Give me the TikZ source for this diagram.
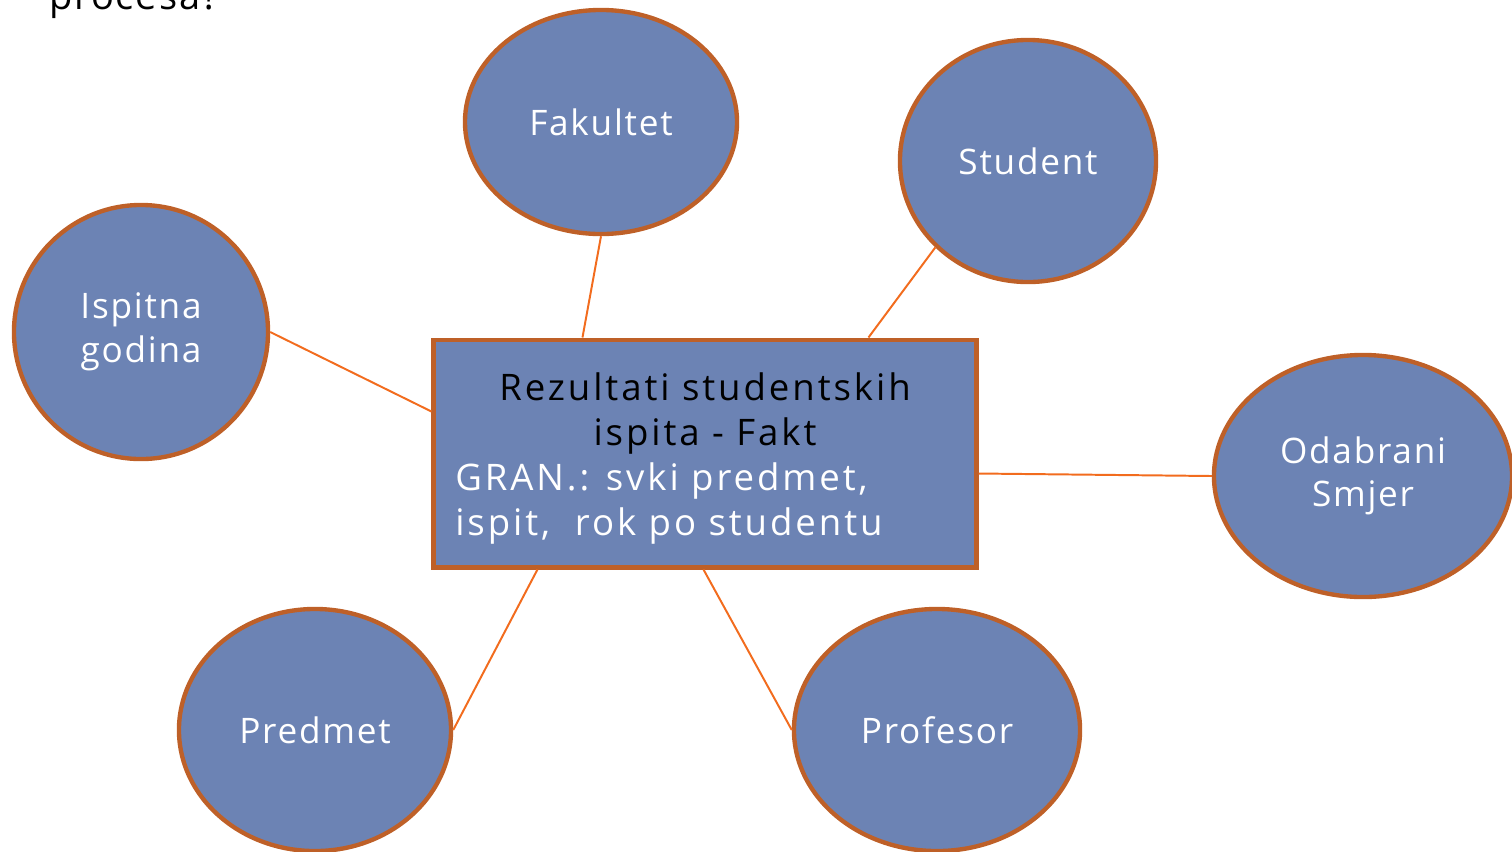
\documentclass[tikz,border=0pt]{standalone}
\usepackage{fontspec}
\setmainfont{Open Sans}
\newfontfamily\bubblefont[LetterSpace=5]{Open Sans}
\newfontfamily\factfont[LetterSpace=8]{Open Sans}
\usetikzlibrary{shapes.geometric,calc}
\definecolor{bubblefill}{RGB}{108,131,180}
\definecolor{bubbleedge}{RGB}{190,96,40}
\definecolor{linkline}{RGB}{242,108,30}
\tikzset{
  bubble/.style={ellipse, draw=bubbleedge, line width=3.1pt, fill=bubblefill,
    inner sep=0pt, text=white, font=\bubblefont\fontsize{25}{31}\selectfont, align=center},
  factbox/.style={rectangle, draw=bubbleedge, line width=3.5pt, fill=bubblefill,
    inner sep=0pt, minimum width=13.55cm, minimum height=5.675cm},
  link/.style={draw=linkline, line width=1.4pt},
  facttext/.style={font=\factfont\fontsize{26}{32}\selectfont, inner sep=0pt}
}
\begin{document}
\begin{tikzpicture}[x=0.025cm,y=-0.025cm]
\useasboundingbox (0,0) rectangle (1512,851);

% heading fragment at the upper edge
\node[anchor=base west, font=\bubblefont\fontsize{27}{32}\selectfont, inner sep=0pt] (head) at (49,9) {procesa?};

% central fact table
\node[factbox] (fact) at (705,453.5) {};
\node[facttext, align=center, text=black, anchor=base] (facttop) at (705,445) {Rezultati studentskih\\ispita - Fakt};
\node[facttext, align=left, text=white, anchor=base west] (factgran) at (455,535) {GRAN.: svki predmet,\\ispit,\ \ rok po studentu};

% dimensions
\node[bubble, minimum width=6.8cm, minimum height=5.6cm] (fak) at (601,122) {Fakultet};
\node[bubble, minimum width=6.4cm, minimum height=6.05cm] (stu) at (1028,161) {Student};
\node[bubble, minimum width=6.35cm, minimum height=6.35cm] (isp) at (141,332) {Ispitna\\godina};
\node[bubble, minimum width=7.45cm, minimum height=6.05cm] (smj) at (1363,476) {Odabrani\\Smjer};
\node[bubble, minimum width=6.8cm, minimum height=6.05cm] (pre) at (315,730) {Predmet};
\node[bubble, minimum width=7.15cm, minimum height=6.05cm] (pro) at (937,730) {Profesor};

% connectors from the fact table to each dimension
\draw[link] (fak.south) -- ($(fact.north west)+(151,0)$);
\draw[link] (stu.223) -- ($(fact.north west)+(437,0)$);
\draw[link] (isp.east) -- ($(fact.north west)+(0,74)$);
\draw[link] (smj.west) -- ($(fact.north east)+(0,136)$);
\draw[link] (pre.east) -- ($(fact.south west)+(106,0)$);
\draw[link] (pro.west) -- ($(fact.south west)+(272,0)$);
\end{tikzpicture}
\end{document}
